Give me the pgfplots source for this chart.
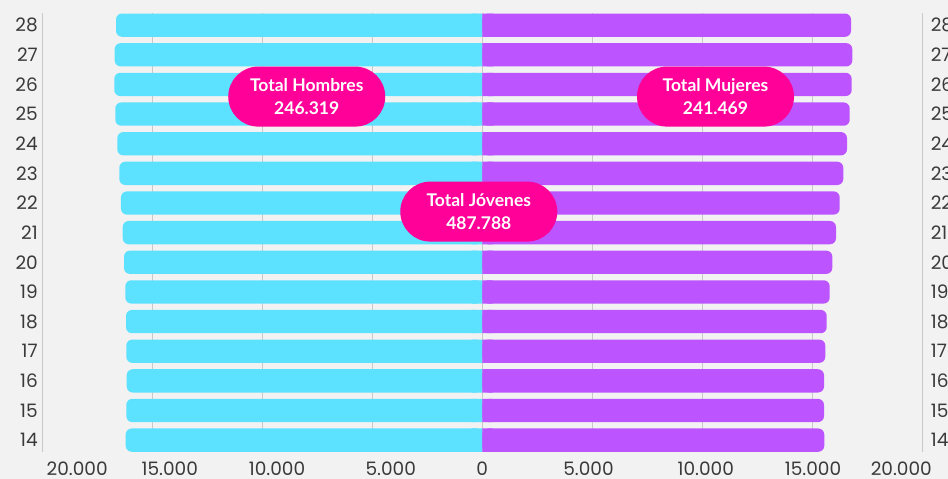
\documentclass[border=0pt]{standalone}
\usepackage{fontspec}
\setmainfont{Poppins}
\newfontfamily\boxfont{Lato}
\usepackage{pgfplots}
\usepackage{pgfplotstable}
\pgfplotsset{compat=1.18}

\definecolor{bgc}{HTML}{F2F2F2}
\definecolor{hombresc}{HTML}{5CE1FF}
\definecolor{mujeresc}{HTML}{BC55FF}
\definecolor{pinkc}{HTML}{FF0099}
\definecolor{gridc}{HTML}{C8C8C8}
\definecolor{labc}{HTML}{3A3A3A}

% edad, hombres (negativo = lado izquierdo), mujeres
\pgfplotstableread{
age hombres mujeres
14 -16209 15545
15 -16182 15532
16 -16164 15532
17 -16182 15591
18 -16195 15655
19 -16227 15791
20 -16286 15909
21 -16345 16077
22 -16423 16245
23 -16500 16409
24 -16591 16577
25 -16682 16700
26 -16727 16790
27 -16709 16818
28 -16650 16759
}\datatable

\pgfplotsset{
  pyr/.style={
    at={(0,0)}, anchor=south west,
    scale only axis, width=880pt, height=438.7pt,
    xmin=-20000, xmax=20000, ymin=13.6, ymax=28.4,
    ytick={14,...,28},
    major tick length=0pt, minor tick length=0pt,
    tick label style={font=\fontsize{18.5}{22}\selectfont, text=labc},
    /pgf/number format/assume math mode=true,
  },
  barra/.style={xbar, bar shift=0pt, bar width=23.3pt, draw=none},
}

\begin{document}
\begin{tikzpicture}
\fill[bgc] (-42.3pt,-27pt) rectangle (905.7pt,452pt);

\begin{axis}[pyr,
  % las etiquetas del original no caen justo sobre las lineas de la grilla
  xtick={-18414,-14205,-9332,-4159,0,4827,10159,15032,19045},
  xticklabels={20.000,15.000,10.000,5.000,0,5.000,10.000,15.000,20.000},
  minor xtick={-15000,-10000,-5000,0,5000,10000,15000},
  xminorgrids, minor grid style={gridc, line width=0.8pt},
  xticklabel style={yshift=-6pt},
  yticklabel style={xshift=-1pt},
  yticklabel pos=left,
  separate axis lines,
  x axis line style={draw=none},
  y axis line style={gridc, line width=0.8pt},
]
% barras redondeadas; un tramo corto recto tapa las esquinas junto al 0
\addplot[barra, fill=hombresc, rounded corners=6pt]
  table[x=hombres, y=age]{\datatable};
\addplot[barra, fill=hombresc, sharp corners]
  table[x expr=0.03*\thisrow{hombres}, y=age]{\datatable};
\addplot[barra, fill=mujeresc, rounded corners=6pt]
  table[x=mujeres, y=age]{\datatable};
\addplot[barra, fill=mujeresc, sharp corners]
  table[x expr=0.03*\thisrow{mujeres}, y=age]{\datatable};

\tikzset{tot/.style={fill=pinkc, text=white, rounded corners=30pt,
  minimum width=157pt, minimum height=60pt, inner sep=0pt, align=center,
  font=\boxfont\bfseries\fontsize{17.5}{22.5}\selectfont}}
\node[tot] at (axis cs:-7980,25.59) {Total Hombres\\246.319};
\node[tot] at (axis cs:10600,25.59) {Total Mujeres\\241.469};
\node[tot] at (axis cs:-160,21.71) {Total Jóvenes\\487.788};
\end{axis}

\begin{axis}[pyr,
  axis x line=none,
  axis y line*=right,
  y axis line style={draw=none},
  yticklabel style={xshift=5pt},
]
\end{axis}

\pgfresetboundingbox
\path[use as bounding box] (-42.3pt,-27pt) rectangle (905.7pt,452pt);
\end{tikzpicture}
\end{document}
